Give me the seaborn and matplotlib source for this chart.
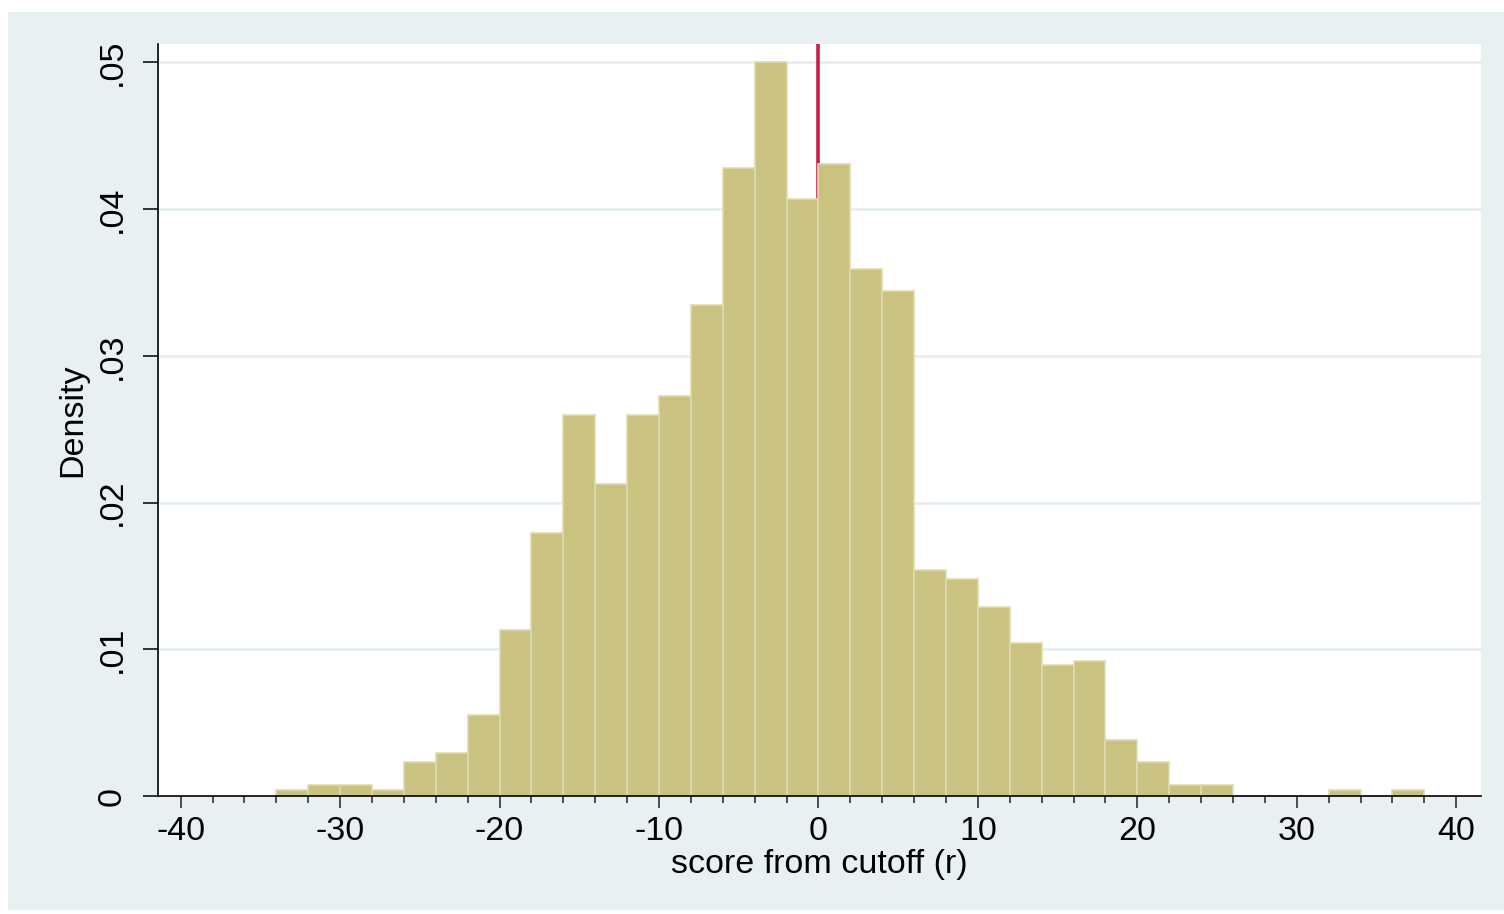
import numpy as np
import pandas as pd
import matplotlib
matplotlib.use("Agg")
import matplotlib.pyplot as plt
from matplotlib.patches import Rectangle
from matplotlib.ticker import MultipleLocator, FixedLocator
import seaborn as sns

# Histogram of the running variable: bin edges (width 2) and density per bin
bin_edges = list(range(-34, 40, 2))
density = [0.0004, 0.00075, 0.00075, 0.0004, 0.0023, 0.0029, 0.0055, 0.0113,
           0.0179, 0.0260, 0.0213, 0.0260, 0.0273, 0.0335, 0.0428, 0.0500,
           0.0407, 0.0431, 0.0359, 0.0344, 0.0154, 0.0148, 0.0129, 0.0104,
           0.0089, 0.0092, 0.0038, 0.0023, 0.00075, 0.00075, 0.0, 0.0,
           0.0, 0.0004, 0.0, 0.0004]
cutoff = 0
x_ticks = [-40, -30, -20, -10, 0, 10, 20, 30, 40]
y_ticks = [0, 0.01, 0.02, 0.03, 0.04, 0.05]
y_tick_labels = ["0", ".01", ".02", ".03", ".04", ".05"]

centers = [(a + b) / 2 for a, b in zip(bin_edges[:-1], bin_edges[1:])]
df = pd.DataFrame({"r": centers, "density": density})

sns.set_theme(style="white")
plt.rcParams["font.family"] = ["Liberation Sans", "DejaVu Sans"]
plt.rcParams["text.color"] = "black"
plt.rcParams["axes.labelcolor"] = "black"
plt.rcParams["xtick.color"] = "black"
plt.rcParams["ytick.color"] = "black"

FS = 24.5

fig = plt.figure(figsize=(15.04, 9.14), dpi=100)
fig.patch.set_facecolor("white")
# light graph-region panel behind the plot area
fig.add_artist(Rectangle((0.0053, 0.0044), 0.9947, 0.9825, transform=fig.transFigure,
                         facecolor="#e8f0f2", edgecolor="none", zorder=0))

ax = fig.add_axes([0.10505, 0.12910, 0.87965, 0.82276])
ax.set_facecolor("white")

ax.axvline(cutoff, color="#c81e4b", linewidth=2.6, zorder=1)

sns.histplot(data=df, x="r", weights="density", bins=bin_edges, stat="count",
             color="#c9c280", edgecolor="#e0dbae", linewidth=1.2, alpha=1.0,
             ax=ax, zorder=2)

ax.set_xlim(-41.42, 41.55)
ax.set_ylim(0, 0.05126)

ax.yaxis.set_major_locator(FixedLocator(y_ticks))
ax.set_yticklabels(y_tick_labels, rotation=90, va="center")
ax.xaxis.set_major_locator(FixedLocator(x_ticks))
ax.xaxis.set_minor_locator(MultipleLocator(2))
ax.set_xticklabels([str(t) for t in x_ticks])

for y in y_ticks[1:]:
    ax.axhline(y, color="#e4eef0", linewidth=1.8, zorder=0.5)
ax.grid(False)

for side in ["top", "right"]:
    ax.spines[side].set_visible(False)
for side in ["left", "bottom"]:
    ax.spines[side].set_color("black")
    ax.spines[side].set_linewidth(1.2)

ax.tick_params(axis="y", which="major", length=11, width=1.1,
               labelsize=FS, pad=11, left=True)
ax.tick_params(axis="x", which="major", length=8.5, width=1.1, color="#222222",
               labelsize=FS, pad=6, bottom=True)
ax.tick_params(axis="x", which="minor", length=5, width=1.1, color="#222222",
               bottom=True)

ax.set_xlabel("score from cutoff (r)", fontsize=FS, labelpad=1)
ax.set_ylabel("Density", fontsize=FS, labelpad=6)

fig.savefig("out.png", dpi=100, facecolor=fig.get_facecolor())
